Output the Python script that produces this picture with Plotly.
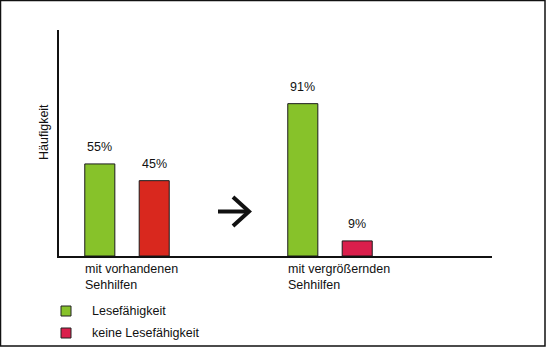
import plotly.graph_objects as go

# ---- data ----
groups = ["mit vorhandenen<br>Sehhilfen", "mit vergrößernden<br>Sehhilfen"]
group_pos = [0, 1]
lese = [55, 91]
keine = [45, 9]
legend_labels = ["Lesefähigkeit", "keine Lesefähigkeit"]
y_title = "Häufigkeit"

GREEN = "#87C22A"
RED = "#D9281E"
CRIMSON = "#DA1F4C"

W, H = 546, 347
L, R, T, B = 59, 54, 30, 91
PW, PH = W - L - R, H - T - B

def px(x):
    return (x - L) / PW

def py(y):
    return 1 - (y - T) / PH

bar_w = 0.148
off_g = -0.208
off_r = 0.06

fig = go.Figure()
fig.add_trace(go.Bar(x=group_pos, y=lese, width=bar_w, offset=off_g,
                     marker=dict(color=GREEN, line=dict(color="#1a1a1a", width=1)),
                     name=legend_labels[0], showlegend=False))
fig.add_trace(go.Bar(x=group_pos, y=keine, width=bar_w, offset=off_r,
                     marker=dict(color=[RED, CRIMSON], line=dict(color="#1a1a1a", width=1)),
                     name=legend_labels[1], showlegend=False))

font = dict(family="Liberation Sans, Arial, sans-serif", size=12.5, color="#111")
ann = []
for xg, v in zip(group_pos, lese):
    ann.append(dict(x=xg + off_g + bar_w / 2, y=v, xref="x", yref="y", text=f"{v}%",
                    showarrow=False, yanchor="bottom", yshift=8, font=font))
for xg, v in zip(group_pos, keine):
    ann.append(dict(x=xg + off_r + bar_w / 2, y=v, xref="x", yref="y", text=f"{v}%",
                    showarrow=False, yanchor="bottom", yshift=8, font=font))
for xg, g in zip(group_pos, groups):
    ann.append(dict(x=xg + off_g, y=0, xref="x", yref="y", text=g, align="left",
                    showarrow=False, xanchor="left", yanchor="top", yshift=-4, xshift=-2,
                    font=font))
ann.append(dict(x=px(44), y=py(132), xref="paper", yref="paper", text=y_title,
                textangle=-90, showarrow=False, xanchor="center", yanchor="middle",
                font=font))

# legend (manual)
shapes = []
for i, (lab, col) in enumerate(zip(legend_labels, [GREEN, CRIMSON])):
    yc = 311 + i * 22
    shapes.append(dict(type="rect", xref="paper", yref="paper",
                       x0=px(61), x1=px(71), y0=py(yc - 5), y1=py(yc + 5),
                       fillcolor=col, line=dict(color="#222", width=1)))
    ann.append(dict(x=px(90), y=py(yc), xref="paper", yref="paper", text=lab,
                    showarrow=False, xanchor="left", yanchor="middle", font=font))

# arrow
shapes.append(dict(type="line", xref="paper", yref="paper",
                   x0=px(218), x1=px(247), y0=py(211.5), y1=py(211.5),
                   line=dict(color="#111", width=4)))
shapes.append(dict(type="path", xref="paper", yref="paper",
                   path=f"M {px(233)} {py(197)} L {px(249)} {py(211.5)} L {px(233)} {py(226)}",
                   line=dict(color="#111", width=4)))

# outer border
shapes.append(dict(type="rect", xref="paper", yref="paper",
                   x0=px(0.5), x1=px(545), y0=py(0.5), y1=py(346),
                   line=dict(color="#111", width=1.5)))

fig.update_layout(
    width=W, height=H,
    margin=dict(l=L, r=R, t=T, b=B),
    paper_bgcolor="white", plot_bgcolor="white",
    xaxis=dict(range=[-0.335, 1.798], showticklabels=False, ticks="", showgrid=False,
               zeroline=False, showline=True, linecolor="#111", linewidth=1.5),
    yaxis=dict(range=[0, 135], showticklabels=False, ticks="", showgrid=False,
               zeroline=False, showline=True, linecolor="#111", linewidth=2),
    annotations=ann, shapes=shapes, showlegend=False,
)
fig.write_html("out.html")
